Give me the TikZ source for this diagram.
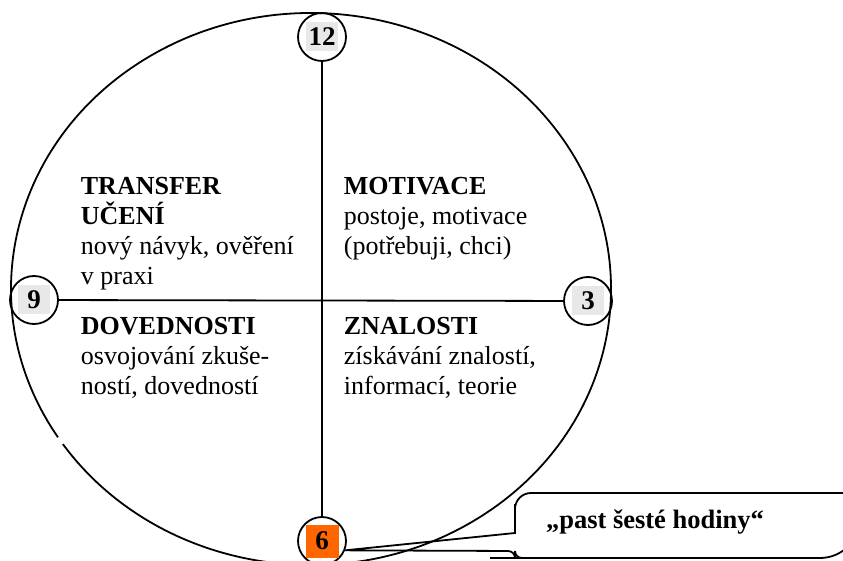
\documentclass[tikz,border=0pt]{standalone}
\usepackage{fontspec}
\setmainfont{Liberation Serif}
\definecolor{numgray}{HTML}{E8E8E8}
\definecolor{trap}{HTML}{FF6600}

\begin{document}
\begin{tikzpicture}[x=1pt,y=1pt,line width=1.8pt,
		numring/.style={draw,circle,minimum size=48pt,inner sep=0pt},
		numbox/.style={fill=numgray,minimum width=32pt,minimum height=29pt,inner sep=0pt,
			font=\fontsize{27}{27}\selectfont\bfseries},
		quadtext/.style={anchor=north west,align=left,inner sep=0pt,
			font=\fontsize{26}{30}\selectfont}]
		\useasboundingbox (0,0) rectangle (843,560);
		\clip (0,0) rectangle (843,560);

		% the ring, with its small break at the lower left
		\coordinate (c) at (311,271);
		\draw (c) ++(214.2:300pt and 276pt) arc[start angle=214.2,end angle=572.5,x radius=300pt,y radius=276pt];

		% clock hours
		\node[numring] (n12) at (322,523) {};
		\node[numring] (n9) at (34,260) {};
		\node[numring] (n3) at (588,259) {};
		\node[numring] (n6) at (322,19) {};

		\node[numbox] at (n12) {12};
		\node[numbox] at (n9) {9};
		\node[numbox] at (n3) {3};
		\node[numbox,fill=trap,minimum width=33pt,minimum height=33pt] at (n6) {6};

		\draw (n9) -- (n3);
		\draw (n12) -- (n6);

		% quadrants
		\node[quadtext] (transfer) at (80,384) {\textbf{TRANSFER}\\\textbf{UČENÍ}\\nový návyk, ověření\\v praxi};
		\node[quadtext] (motivace) at (343,384) {\textbf{MOTIVACE}\\postoje, motivace\\(potřebuji, chci)};
		\node[quadtext] (dovednosti) at (80,244) {\textbf{DOVEDNOSTI}\\osvojování zkuše-\\ností, dovedností};
		\node[quadtext] (znalosti) at (343,244) {\textbf{ZNALOSTI}\\získávání znalostí,\\informací, teorie};

		% callout
		\node[font=\fontsize{26.5}{26.5}\selectfont\bfseries] (past) at (655,38) {„past šesté hodiny“};
		\draw (n6.-22) -- (515,27) -- (515,56) {[rounded corners=16pt] -- (515,67) -- (860,67)}
			{[rounded corners=40pt] -- (860,2) -- (530,2)}
			{[rounded corners=7pt] -- (515,2) -- (515,9)} -- cycle;
\end{tikzpicture}
\end{document}
